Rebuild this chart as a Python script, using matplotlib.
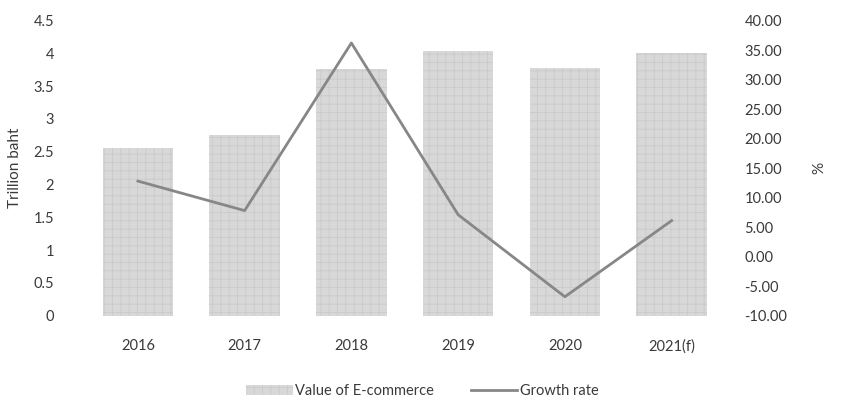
import matplotlib.pyplot as plt
import matplotlib as mpl

plt.rcParams['font.family'] = ['Lato', 'DejaVu Sans']
mpl.rcParams['hatch.linewidth'] = 0.6

years = ['2016', '2017', '2018', '2019', '2020', '2021(f)']
value_trillion = [2.56, 2.76, 3.76, 4.03, 3.78, 4.01]
growth_pct = [12.8, 7.8, 36.2, 7.1, -6.8, 6.1]

text_col = '#3a3a3a'

fig = plt.figure(figsize=(8.45, 4.11), dpi=100)
ax = fig.add_axes([0.1, 0.232, 0.758, 0.718])
ax2 = ax.twinx()

x = range(len(years))
bars = ax.bar(x, value_trillion, width=0.66, color='#d8d8d8', edgecolor='#cacaca',
              hatch='++', linewidth=0, label='Value of E-commerce')
line, = ax2.plot(x, growth_pct, color='#878787', linewidth=2.0, label='Growth rate')

ax.set_xlim(-0.5, len(years) - 0.5)
ax.set_ylim(0, 4.5)
ax.set_yticks([0, 0.5, 1, 1.5, 2, 2.5, 3, 3.5, 4, 4.5])
ax.set_yticklabels(['0', '0.5', '1', '1.5', '2', '2.5', '3', '3.5', '4', '4.5'])
ax2.set_ylim(-10, 40)
ax2.set_yticks(range(-10, 45, 5))
ax2.set_yticklabels([f'{v:.2f}' for v in range(-10, 45, 5)])

ax.set_xticks(list(x))
ax.set_xticklabels(years)

for a in (ax, ax2):
    for s in a.spines.values():
        s.set_visible(False)
    a.tick_params(length=0, labelsize=10.5, colors=text_col)
ax.tick_params(axis='x', pad=17)
ax.tick_params(axis='y', pad=22)
ax2.tick_params(axis='y', pad=14)

ax.set_ylabel('Trillion baht', fontsize=11, color=text_col, labelpad=8)
ax2.set_ylabel('%', fontsize=11, color=text_col, labelpad=18)

fig.legend([bars, line], ['Value of E-commerce', 'Growth rate'], loc='center',
           bbox_to_anchor=(0.5, 0.048), ncol=2, frameon=False, fontsize=10.5,
           labelcolor=text_col, handlelength=3.2, handletextpad=0.2, columnspacing=2.5)

fig.savefig('out.png', dpi=100)
